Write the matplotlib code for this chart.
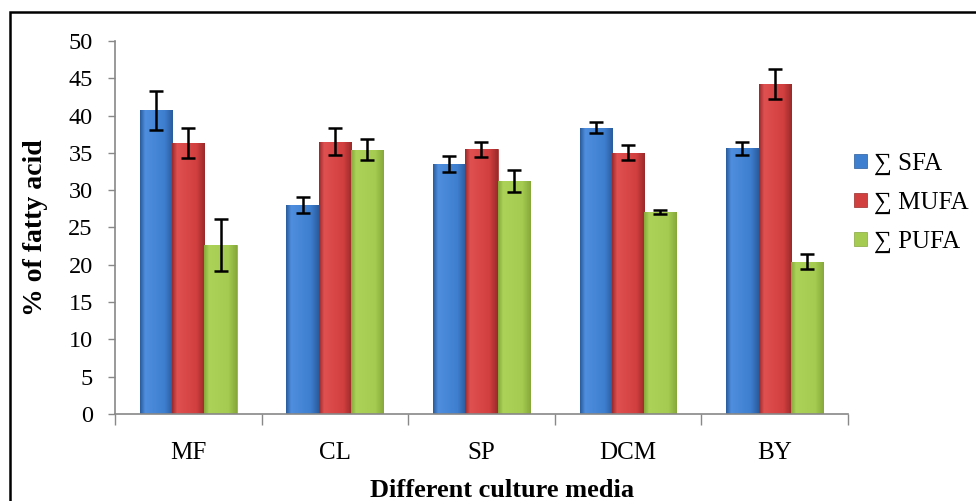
import numpy as np
import matplotlib
matplotlib.use("Agg")
import matplotlib.pyplot as plt
from matplotlib.colors import LinearSegmentedColormap
from matplotlib.patches import Rectangle

media = ["MF", "CL", "SP", "DCM", "BY"]
series = ["\u2211 SFA", "\u2211 MUFA", "\u2211 PUFA"]
sfa = [40.7, 28.0, 33.5, 38.4, 35.6]
sfa_err = [2.6, 1.1, 1.1, 0.7, 0.9]
mufa = [36.3, 36.5, 35.5, 35.0, 44.2]
mufa_err = [2.0, 1.8, 1.0, 1.0, 2.0]
pufa = [22.6, 35.4, 31.2, 27.1, 20.4]
pufa_err = [3.5, 1.4, 1.5, 0.3, 1.0]

colors = ["#3f7fd0", "#d23f3f", "#a5cb50"]
darks = ["#2a5c9c", "#9a2a2a", "#86a83a"]
lights = ["#4f8ede", "#e05050", "#acd258"]

plt.rcParams['font.family'] = ['Liberation Serif', 'DejaVu Serif']

fig = plt.figure(figsize=(9.76, 5.01), dpi=100)
ax = fig.add_axes([0.1178, 0.1737, 0.751, 0.7445])

x = np.arange(len(media))
w = 0.22
vals = [sfa, mufa, pufa]
errs = [sfa_err, mufa_err, pufa_err]

for i in range(3):
    bars = ax.bar(x + (i - 1) * w, vals[i], w, color=colors[i], label=series[i],
                  edgecolor=darks[i], linewidth=0.5, zorder=2)
    cmap = LinearSegmentedColormap.from_list(
        "g%d" % i, [(0, darks[i]), (0.15, lights[i]), (0.75, colors[i]), (1, darks[i])])
    grad = np.linspace(0, 1, 64).reshape(1, -1)
    for b in bars:
        bx, by = b.get_x(), b.get_y()
        bw, bh = b.get_width(), b.get_height()
        im = ax.imshow(grad, cmap=cmap, aspect='auto', extent=[bx, bx + bw, by, by + bh],
                       zorder=2.5, interpolation='bilinear')
        im.set_clip_path(b)
    ax.errorbar(x + (i - 1) * w, vals[i], yerr=errs[i], fmt='none', ecolor='black',
                elinewidth=1.8, capsize=5, capthick=1.8, zorder=3)

ax.set_xlim(-0.5, len(media) - 0.5)
ax.set_ylim(0, 50)
ax.set_yticks(np.arange(0, 51, 5))
ax.tick_params(axis='y', labelsize=17.5, color='#888888', length=5, width=1, direction='out', pad=11)
ax.set_xticks(x)
ax.set_xticklabels(media, fontsize=18)
ax.tick_params(axis='x', length=0, pad=20)
ax.set_xticks(np.arange(-0.5, len(media), 1), minor=True)
ax.tick_params(axis='x', which='minor', length=8, color='#888888', width=1)

for s in ['top', 'right']:
    ax.spines[s].set_visible(False)
for s in ['left', 'bottom']:
    ax.spines[s].set_color('#888888')
    ax.spines[s].set_linewidth(1.2)

ax.set_ylabel("% of fatty acid", fontsize=20, fontweight='bold', va='center')
ax.yaxis.set_label_coords(-0.108, 0.5)
ax.set_xlabel("Different culture media", fontsize=19, fontweight='bold', va='center')
ax.xaxis.set_label_coords(0.528, -0.205)

leg = ax.legend(loc='center left', bbox_to_anchor=(0.978, 0.566), frameon=False,
                fontsize=18, handlelength=0.5, handleheight=0.5, handletextpad=0.3,
                labelspacing=0.68)

# outer frame
fig.patches.append(Rectangle((10 / 976, -0.1), 1.2, 1.1 - 12 / 501,
                             transform=fig.transFigure, fill=False,
                             edgecolor='black', linewidth=1.8))

fig.savefig("out.png", dpi=100)
